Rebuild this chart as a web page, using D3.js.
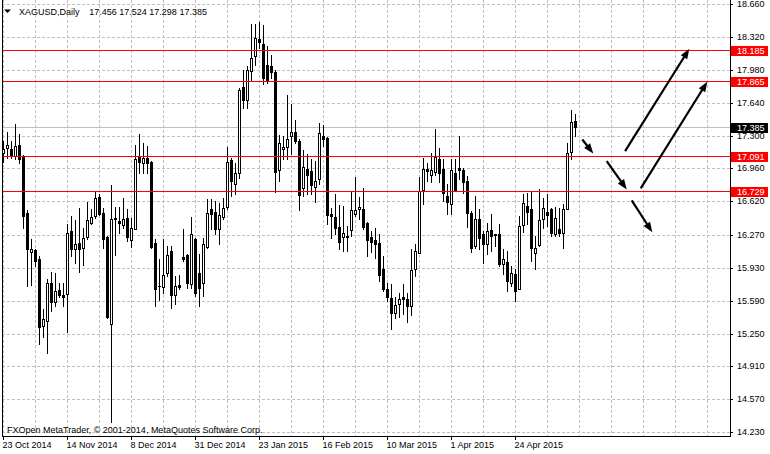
<!DOCTYPE html>
<html><head><meta charset="utf-8">
<script src="https://cdn.jsdelivr.net/npm/d3@7"></script>
<style>
html,body{margin:0;padding:0;background:#fff;}
svg{display:block;}
</style></head><body>
<svg id="chart" width="770" height="454"></svg>
<script>
// ---------- data ----------
const symbol = "XAGUSD,Daily";
const lastQuote = ["17.456", "17.524", "17.298", "17.385"];
const copyright = "FXOpen MetaTrader, \u00A9 2001-2014, MetaQuotes Software Corp.";

const opens = [
17.122,17.177,17.164,17.087,17.198,17.087,16.495,16.095,16.112,16.019,
15.330,15.382,15.779,15.578,15.699,15.647,15.655,16.309,16.123,16.185,
16.140,16.254,16.399,16.467,16.667,16.502,16.250,15.348,16.433,16.412,
16.374,16.443,16.219,16.337,17.094,17.019,17.071,17.025,16.192,15.748,
15.737,15.875,16.105,15.651,15.754,16.043,16.061,15.768,16.233,15.882,
15.779,16.151,16.536,16.512,16.337,16.457,16.564,17.043,16.802,16.915,
17.800,17.673,17.966,18.121,18.303,18.249,18.035,18.017,17.959,16.942,
17.164,17.180,17.294,17.339,17.249,16.760,16.957,16.929,16.771,16.846,
17.301,17.277,16.492,16.459,16.350,16.252,16.250,16.319,16.492,16.543,
16.543,16.399,16.254,16.219,16.185,15.916,15.717,15.616,15.468,15.554,
15.624,15.613,15.537,15.916,16.089,16.736,16.957,16.891,16.926,17.060,
16.957,16.674,16.595,16.908,16.967,16.939,16.829,16.502,16.157,16.433,
16.278,16.174,16.319,16.278,16.278,15.968,15.996,15.779,15.864,15.717,
16.378,16.570,16.543,16.089,16.167,16.440,16.512,16.536,16.278,16.329,
16.295,16.543,17.128,17.456];
const highs = [
17.242,17.339,17.242,17.418,17.322,17.100,16.526,16.226,16.123,16.054,
15.503,15.813,15.892,15.882,15.779,15.779,16.381,16.467,16.422,16.547,
16.347,16.616,16.543,16.725,16.691,16.554,16.260,16.784,16.564,16.560,
16.657,16.536,16.446,17.208,17.322,17.226,17.190,17.035,16.226,16.027,
16.226,16.157,16.157,15.847,15.857,16.329,16.070,16.461,16.244,16.071,
16.244,16.640,16.640,16.622,16.598,16.657,17.184,17.071,17.019,17.790,
17.983,18.017,18.455,18.455,18.479,18.448,18.224,18.138,17.983,17.311,
17.301,17.725,17.629,17.466,17.270,17.149,17.105,17.053,17.035,17.432,
17.407,17.290,16.554,16.691,16.577,16.570,16.364,16.715,16.874,16.667,
16.760,16.410,16.312,16.347,16.278,16.054,15.779,15.761,15.624,15.675,
15.768,15.675,16.123,16.174,16.874,17.071,17.019,17.122,17.370,17.174,
17.053,16.802,17.053,17.053,17.294,16.967,16.880,16.519,16.674,16.536,
16.312,16.399,16.484,16.285,16.381,16.123,16.105,15.950,15.916,16.467,
16.691,16.709,16.725,16.260,16.750,16.657,16.691,16.554,16.560,16.554,
16.588,17.226,17.570,17.524];
const lows = [
17.029,17.071,17.071,17.053,17.019,16.347,15.743,15.751,15.950,15.141,
15.216,15.045,15.485,15.537,15.624,15.537,15.262,16.054,15.985,15.888,
15.961,16.226,16.381,16.450,16.481,16.133,15.410,14.330,16.061,16.295,
16.340,16.209,16.151,16.329,16.916,16.916,16.916,16.140,15.537,15.599,
15.675,15.847,15.520,15.554,15.709,16.002,15.727,15.727,15.640,15.531,
15.640,16.140,16.329,16.278,16.174,16.433,16.536,16.671,16.691,16.864,
17.587,17.587,17.880,18.035,18.207,17.835,17.846,17.897,16.712,16.826,
17.053,17.060,17.105,17.226,16.526,16.674,16.691,16.691,16.614,16.795,
17.190,16.381,16.244,16.278,16.123,16.102,16.105,16.260,16.467,16.440,
16.329,16.054,16.095,16.037,15.795,15.692,15.588,15.296,15.410,15.427,
15.451,15.371,15.441,15.847,16.080,16.588,16.829,16.818,16.891,16.818,
16.622,16.484,16.484,16.725,16.846,16.709,16.357,16.095,16.140,16.123,
15.985,16.071,16.105,16.157,15.950,15.864,15.686,15.743,15.588,15.709,
16.300,16.381,16.000,15.916,16.157,16.347,16.364,16.260,16.260,16.260,
16.140,16.536,17.060,17.298];
const closes = [
17.164,17.198,17.087,17.190,17.053,16.467,16.130,16.130,16.002,15.314,
15.399,15.779,15.578,15.692,15.651,15.634,16.288,16.123,16.174,16.130,
16.244,16.422,16.457,16.657,16.488,16.233,15.417,16.440,16.443,16.391,
16.440,16.254,16.347,17.060,17.025,17.071,17.019,16.151,15.717,15.742,
15.854,16.061,15.651,15.743,15.733,16.027,15.779,16.285,15.675,15.727,
16.174,16.502,16.492,16.329,16.474,16.546,17.029,16.829,16.915,17.776,
17.673,17.983,18.104,18.311,18.269,17.897,17.872,17.959,16.922,17.225,
17.184,17.267,17.339,17.242,16.681,16.977,16.888,16.784,16.829,17.329,
17.267,16.474,16.467,16.340,16.198,16.295,16.258,16.526,16.526,16.564,
16.353,16.219,16.198,16.182,15.857,15.709,15.630,15.468,15.547,15.613,
15.606,15.537,15.909,16.105,16.725,16.957,16.932,16.942,17.081,16.915,
16.709,16.614,16.939,16.736,16.939,16.818,16.502,16.140,16.433,16.244,
16.174,16.312,16.260,16.267,15.968,16.019,15.795,15.875,15.692,16.364,
16.605,16.508,16.140,16.140,16.422,16.554,16.477,16.295,16.450,16.295,
16.536,17.122,17.438,17.385];

const dateLabels = ["23 Oct 2014","14 Nov 2014","8 Dec 2014","31 Dec 2014","23 Jan 2015","16 Feb 2015","10 Mar 2015","1 Apr 2015","24 Apr 2015"];
const dateLabelIndex = [0,16,32,48,64,80,96,112,128];
const priceTicks = ["14.230","14.570","14.910","15.250","15.590","15.930","16.270","16.620","16.960","17.300","17.640","17.980","18.320","18.660"];
const levels = [18.185, 17.865, 17.091, 16.729];
const levelLabels = ["18.185","17.865","17.091","16.729"];
const bidPrice = 17.385;
const bidLabel = "17.385";
// arrows: [bar index, price] start and end
const arrowStart = [[144.7,17.260],[150.8,17.036],[157.05,16.629],[155.4,17.139],[159.3,16.753]];
const arrowEnd   = [[147.45,17.115],[155.8,16.743],[162.2,16.300],[171.45,18.200],[175.95,17.858]];

// ---------- layout ----------
const FONT = '"Liberation Sans", Arial, sans-serif';
const plotLeft = 2, plotRight = 730, plotBottom = 436;
const gridStep = 8, gridLastIndex = 176;

const svg = d3.select("#chart");
const x = d3.scaleLinear().domain([0, 143]).range([3, 575]).interpolate(d3.interpolateRound);
const y = d3.scaleLinear().domain([14.23, 18.66]).range([432.1, 4.3]).interpolate(d3.interpolateRound);
const xf = x.copy().interpolate(d3.interpolateNumber);
const yf = y.copy().interpolate(d3.interpolateNumber);

svg.append("rect").attr("width", 770).attr("height", 454).attr("fill", "#fff");

// grid
const grid = svg.append("g").attr("stroke", "#c0c0c0").attr("stroke-dasharray", "3,2").attr("shape-rendering", "crispEdges");
grid.selectAll("line.h").data(priceTicks).join("line").attr("class", "h")
  .attr("x1", plotLeft).attr("x2", plotRight)
  .attr("y1", d => y(+d) + 0.5).attr("y2", d => y(+d) + 0.5);
grid.selectAll("line.v").data(d3.range(0, gridLastIndex + 1, gridStep)).join("line").attr("class", "v")
  .attr("y1", 0).attr("y2", plotBottom)
  .attr("x1", d => x(d) + 0.5).attr("x2", d => x(d) + 0.5);

// bid line
svg.append("line").attr("x1", plotLeft).attr("x2", plotRight)
  .attr("y1", y(bidPrice) + 0.5).attr("y2", y(bidPrice) + 0.5)
  .attr("stroke", "#c0c0c0").attr("shape-rendering", "crispEdges");

// candles
const idx = d3.range(opens.length);
const cg = svg.append("g").attr("shape-rendering", "crispEdges");
cg.selectAll("line.w").data(idx).join("line").attr("class", "w")
  .attr("x1", i => x(i) + 0.5).attr("x2", i => x(i) + 0.5)
  .attr("y1", i => y(highs[i])).attr("y2", i => y(lows[i]) + 1)
  .attr("stroke", "#000");
cg.selectAll("rect.b").data(idx.filter(i => y(Math.min(opens[i], closes[i])) > y(Math.max(opens[i], closes[i])))).join("rect").attr("class", "b")
  .attr("x", i => x(i) - 0.5).attr("width", 2)
  .attr("y", i => y(Math.max(opens[i], closes[i])) + 0.5)
  .attr("height", i => y(Math.min(opens[i], closes[i])) - y(Math.max(opens[i], closes[i])))
  .attr("fill", i => closes[i] >= opens[i] ? "#fff" : "#000")
  .attr("stroke", "#000");
cg.selectAll("line.d").data(idx.filter(i => y(Math.min(opens[i], closes[i])) <= y(Math.max(opens[i], closes[i])))).join("line").attr("class", "d")
  .attr("x1", i => x(i) - 1).attr("x2", i => x(i) + 2)
  .attr("y1", i => y(opens[i]) + 0.5).attr("y2", i => y(opens[i]) + 0.5)
  .attr("stroke", "#000");

// level lines
svg.append("g").attr("shape-rendering", "crispEdges").selectAll("line").data(levels).join("line")
  .attr("x1", plotLeft).attr("x2", plotRight)
  .attr("y1", d => y(d) + 0.5).attr("y2", d => y(d) + 0.5)
  .attr("stroke", "#ff0000");

// arrows
const ag = svg.append("g");
arrowStart.forEach((s, k) => {
  const e = arrowEnd[k];
  const x1 = xf(s[0]) + 0.5, y1 = yf(s[1]), x2 = xf(e[0]) + 0.5, y2 = yf(e[1]);
  const dx = x2 - x1, dy = y2 - y1, len = Math.hypot(dx, dy);
  const ux = dx / len, uy = dy / len;
  const hl = 10, hw = 3.8;
  ag.append("line").attr("x1", x1).attr("y1", y1)
    .attr("x2", x2 - ux * (hl - 2)).attr("y2", y2 - uy * (hl - 2))
    .attr("stroke", "#000").attr("stroke-width", 2.2);
  const bx = x2 - ux * hl, by = y2 - uy * hl;
  ag.append("path").attr("d",
    `M${x2},${y2}L${bx - uy * hw},${by + ux * hw}L${bx + uy * hw},${by - ux * hw}Z`)
    .attr("fill", "#000");
});

// frame
const fg = svg.append("g").attr("stroke", "#000").attr("shape-rendering", "crispEdges");
fg.append("line").attr("x1", plotLeft + 0.5).attr("x2", plotLeft + 0.5).attr("y1", 0).attr("y2", plotBottom + 1);
fg.append("line").attr("x1", plotRight + 0.5).attr("x2", plotRight + 0.5).attr("y1", 0).attr("y2", plotBottom + 1);
fg.append("line").attr("x1", plotLeft).attr("x2", plotRight + 1).attr("y1", plotBottom + 0.5).attr("y2", plotBottom + 0.5);

// right price axis
const yAxis = d3.axisRight(y).tickValues(priceTicks.map(Number))
  .tickFormat((d, i) => priceTicks[i]).tickSize(3).tickPadding(4);
const ya = svg.append("g").attr("transform", `translate(${plotRight},0)`).call(yAxis);
ya.select(".domain").remove();
ya.selectAll("line").attr("stroke", "#000").attr("shape-rendering", "crispEdges");
ya.selectAll("text").attr("font-family", FONT).attr("font-size", 9).attr("fill", "#000");

// level labels
const lg = svg.append("g");
function priceBox(v, label, bg) {
  const yc = y(v) + 0.5;
  lg.append("rect").attr("x", plotRight + 1).attr("y", yc - 4.5).attr("width", 37).attr("height", 10).attr("fill", bg);
  lg.append("text").attr("x", plotRight + 7).attr("y", yc + 3.5).attr("fill", "#fff")
    .attr("font-family", FONT).attr("font-size", 9).text(label);
}
levels.forEach((v, k) => priceBox(v, levelLabels[k], "#ff0000"));
priceBox(bidPrice, bidLabel, "#000");

// bottom date axis
const xAxis = d3.axisBottom(x).tickValues(dateLabelIndex)
  .tickFormat((d, i) => dateLabels[i]).tickSize(4).tickPadding(2);
const xa = svg.append("g").attr("transform", `translate(0,${plotBottom})`).call(xAxis);
xa.select(".domain").remove();
xa.selectAll("line").attr("stroke", "#000").attr("shape-rendering", "crispEdges");
xa.selectAll("text").attr("font-family", FONT).attr("font-size", 9).attr("fill", "#000")
  .attr("text-anchor", "start").attr("x", -1);

// header
svg.append("path").attr("d", "M4,9.5L11,9.5L7.5,13Z").attr("fill", "#000");
svg.append("text").attr("x", 19).attr("y", 14.7).attr("font-family", FONT).attr("font-size", 9).text(symbol);
svg.append("text").attr("x", 89.3).attr("y", 14.7).attr("font-family", FONT).attr("font-size", 9).text(lastQuote.join(" "));

// footer
svg.append("text").attr("x", 7).attr("y", 432.5).attr("font-family", FONT).attr("font-size", 9).text(copyright);
</script>
</body></html>
